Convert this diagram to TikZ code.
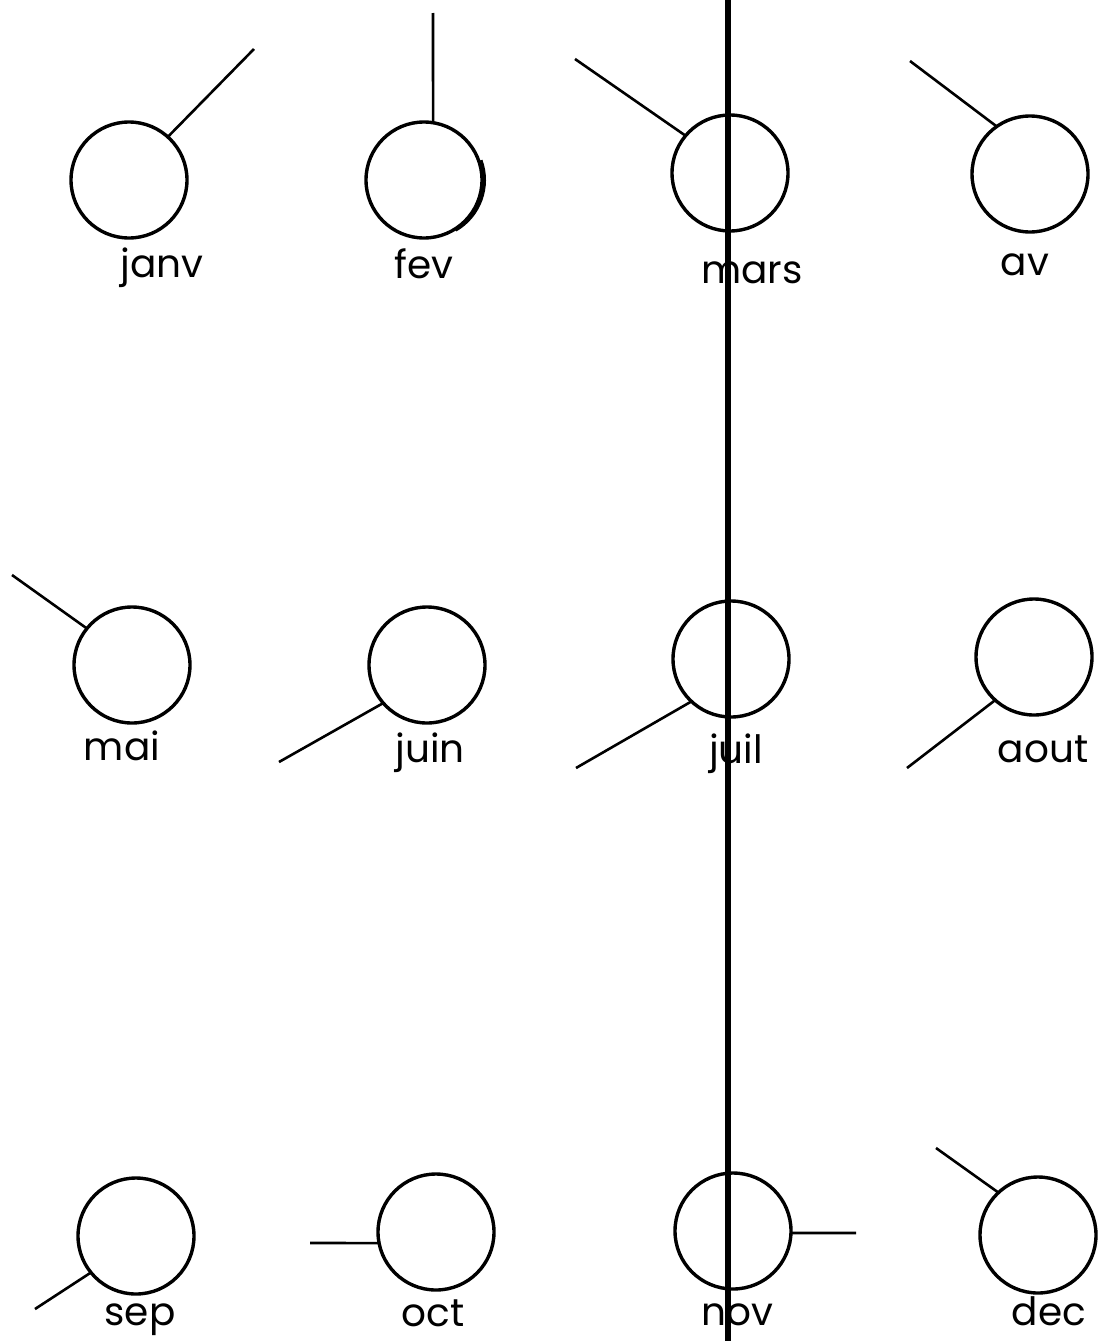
\documentclass[tikz,border=0pt]{standalone}
\usepackage{fontspec}
\setmainfont{Poppins}
\begin{document}
\begin{tikzpicture}[x=1pt,y=-1pt,
  disc/.style={circle,draw,line width=3.4pt,minimum size=116pt,inner sep=0pt,outer sep=0pt},
  ray/.style={line width=2.6pt},
  month/.style={anchor=base,inner sep=0pt,font=\fontsize{39}{46}\selectfont},
  axisline/.style={line width=5.5pt}]
\useasboundingbox[fill=white] (0,0) rectangle (1101,1341);
% circles
\node[disc] (janv) at (129,180) {};
\node[disc] (fev)  at (424,180) {};
\node[disc] (mars) at (730,173) {};
\node[disc] (av)   at (1030,174) {};
\node[disc] (mai)  at (132,665) {};
\node[disc] (juin) at (427,665) {};
\node[disc] (juil) at (731,659) {};
\node[disc] (aout) at (1034,657) {};
\node[disc] (sep)  at (136,1236) {};
\node[disc] (oct)  at (436,1232) {};
\node[disc] (nov)  at (733,1231) {};
\node[disc] (dec)  at (1038,1235) {};
% free ends of the rays
\coordinate (ejanv) at (254,49);
\coordinate (efev)  at (433,13);
\coordinate (emars) at (575,59);
\coordinate (eav)   at (910,61);
\coordinate (emai)  at (12,575);
\coordinate (ejuin) at (279,762);
\coordinate (ejuil) at (576,768);
\coordinate (eaout) at (907,768);
\coordinate (esep)  at (35,1309);
\coordinate (eoct)  at (310,1243);
\coordinate (enov)  at (856,1233);
\coordinate (edec)  at (936,1148);
% rays
\draw[ray] (janv.48) -- (ejanv);
\draw[ray] (fev.81) -- (efev);
\draw[ray] (mars.140) -- (emars);
\draw[ray] (av.125) -- (eav);
\draw[ray] (mai.141) -- (emai);
\draw[ray] (juin.221) -- (ejuin);
\draw[ray] (juil.227) -- (ejuil);
\draw[ray] (aout.228) -- (eaout);
\draw[ray] (sep.219) -- (esep);
\draw[ray] (oct.191) -- (eoct);
\draw[ray] (nov.358) -- (enov);
\draw[ray] (dec.133) -- (edec);
% ink crescent on fev
\draw[line width=3pt] ([xshift=2.5pt]fev.20) arc[start angle=20,end angle=-60,radius=58pt];
% labels
\node[month] (ljanv) at (162,277) {janv};
\node[month] (lfev)  at (424,278) {fev};
\node[month] (lmars) at (752,283) {mars};
\node[month] (lav)   at (1025,275) {av};
\node[month] (lmai)  at (122,760) {mai};
\node[month] (ljuin) at (430,762) {juin};
\node[month] (ljuil) at (736,763) {juil};
\node[month] (laout) at (1043,762) {aout};
\node[month] (lsep)  at (140,1325) {sep};
\node[month] (loct)  at (433,1326) {oct};
\node[month] (lnov)  at (737,1325) {nov};
\node[month] (ldec)  at (1049,1325) {dec};
% vertical line
\coordinate (vtop) at (728,0);
\coordinate (vbot) at (728,1341);
\draw[axisline] (vtop) -- (vbot);
\end{tikzpicture}
\end{document}
